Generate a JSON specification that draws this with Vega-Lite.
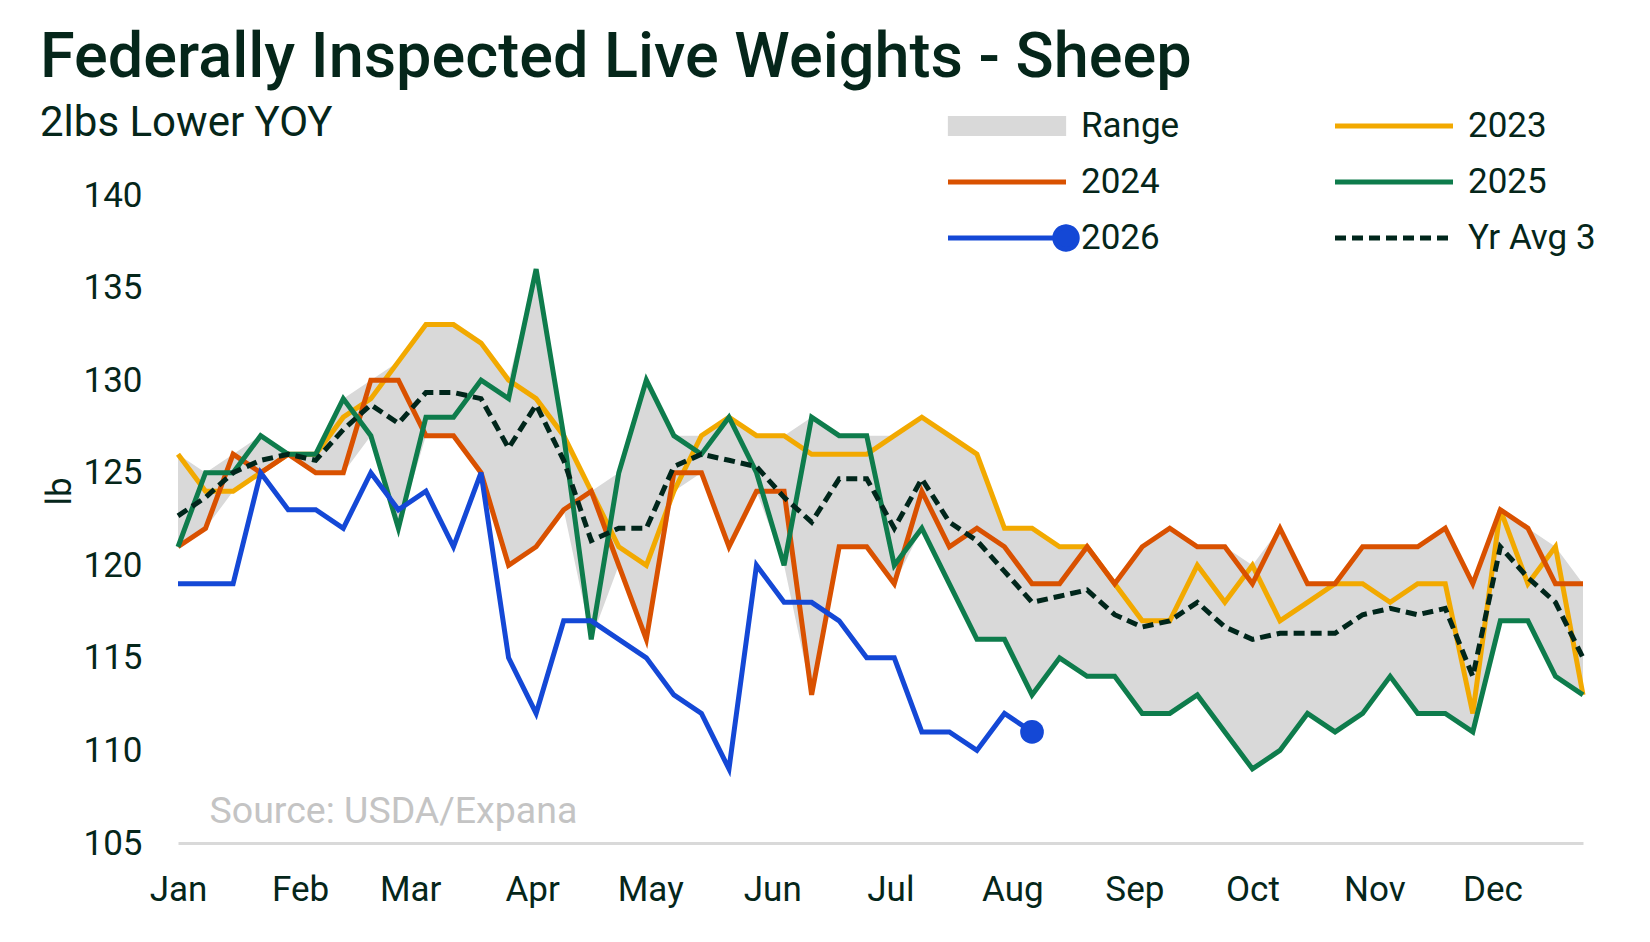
{
  "$schema": "https://vega.github.io/schema/vega-lite/v6.json",
  "width": 1405,
  "height": 648,
  "autosize": {"type": "none"},
  "padding": {"left": 178, "top": 195, "right": 67, "bottom": 99},
  "background": "white",
  "title": {
    "text": "Federally Inspected Live Weights - Sheep",
    "subtitle": "2lbs Lower YOY",
    "anchor": "start",
    "frame": "group",
    "dx": -138,
    "offset": -36,
    "font": "Roboto",
    "fontSize": 63,
    "fontWeight": 500,
    "color": "#05261a",
    "subtitleFont": "Roboto",
    "subtitleFontSize": 42,
    "subtitleColor": "#05261a",
    "subtitlePadding": 13
  },
  "datasets": {
    "weeks": [
      {"date": "2023-01-01", "2023": 126, "2024": 121, "2025": 121, "2026": 119, "lo": 121, "hi": 126, "avg": 122.67},
      {"date": "2023-01-08", "2023": 124, "2024": 122, "2025": 125, "2026": 119, "lo": 122, "hi": 125, "avg": 123.67},
      {"date": "2023-01-15", "2023": 124, "2024": 126, "2025": 125, "2026": 119, "lo": 124, "hi": 126, "avg": 125},
      {"date": "2023-01-22", "2023": 125, "2024": 125, "2025": 127, "2026": 125, "lo": 125, "hi": 127, "avg": 125.67},
      {"date": "2023-01-29", "2023": 126, "2024": 126, "2025": 126, "2026": 123, "lo": 126, "hi": 126, "avg": 126},
      {"date": "2023-02-05", "2023": 126, "2024": 125, "2025": 126, "2026": 123, "lo": 125, "hi": 126, "avg": 125.67},
      {"date": "2023-02-12", "2023": 128, "2024": 125, "2025": 129, "2026": 122, "lo": 125, "hi": 129, "avg": 127.33},
      {"date": "2023-02-19", "2023": 129, "2024": 130, "2025": 127, "2026": 125, "lo": 127, "hi": 130, "avg": 128.67},
      {"date": "2023-02-26", "2023": 131, "2024": 130, "2025": 122, "2026": 123, "lo": 122, "hi": 131, "avg": 127.67},
      {"date": "2023-03-05", "2023": 133, "2024": 127, "2025": 128, "2026": 124, "lo": 127, "hi": 133, "avg": 129.33},
      {"date": "2023-03-12", "2023": 133, "2024": 127, "2025": 128, "2026": 121, "lo": 127, "hi": 133, "avg": 129.33},
      {"date": "2023-03-19", "2023": 132, "2024": 125, "2025": 130, "2026": 125, "lo": 125, "hi": 132, "avg": 129},
      {"date": "2023-03-26", "2023": 130, "2024": 120, "2025": 129, "2026": 115, "lo": 120, "hi": 130, "avg": 126.33},
      {"date": "2023-04-02", "2023": 129, "2024": 121, "2025": 136, "2026": 112, "lo": 121, "hi": 136, "avg": 128.67},
      {"date": "2023-04-09", "2023": 127, "2024": 123, "2025": 127, "2026": 117, "lo": 123, "hi": 127, "avg": 125.67},
      {"date": "2023-04-16", "2023": 124, "2024": 124, "2025": 116, "2026": 117, "lo": 116, "hi": 124, "avg": 121.33},
      {"date": "2023-04-23", "2023": 121, "2024": 120, "2025": 125, "2026": 116, "lo": 120, "hi": 125, "avg": 122},
      {"date": "2023-04-30", "2023": 120, "2024": 116, "2025": 130, "2026": 115, "lo": 116, "hi": 130, "avg": 122},
      {"date": "2023-05-07", "2023": 124, "2024": 125, "2025": 127, "2026": 113, "lo": 124, "hi": 127, "avg": 125.33},
      {"date": "2023-05-14", "2023": 127, "2024": 125, "2025": 126, "2026": 112, "lo": 125, "hi": 127, "avg": 126},
      {"date": "2023-05-21", "2023": 128, "2024": 121, "2025": 128, "2026": 109, "lo": 121, "hi": 128, "avg": 125.67},
      {"date": "2023-05-28", "2023": 127, "2024": 124, "2025": 125, "2026": 120, "lo": 124, "hi": 127, "avg": 125.33},
      {"date": "2023-06-04", "2023": 127, "2024": 124, "2025": 120, "2026": 118, "lo": 120, "hi": 127, "avg": 123.67},
      {"date": "2023-06-11", "2023": 126, "2024": 113, "2025": 128, "2026": 118, "lo": 113, "hi": 128, "avg": 122.33},
      {"date": "2023-06-18", "2023": 126, "2024": 121, "2025": 127, "2026": 117, "lo": 121, "hi": 127, "avg": 124.67},
      {"date": "2023-06-25", "2023": 126, "2024": 121, "2025": 127, "2026": 115, "lo": 121, "hi": 127, "avg": 124.67},
      {"date": "2023-07-02", "2023": 127, "2024": 119, "2025": 120, "2026": 115, "lo": 119, "hi": 127, "avg": 122},
      {"date": "2023-07-09", "2023": 128, "2024": 124, "2025": 122, "2026": 111, "lo": 122, "hi": 128, "avg": 124.67},
      {"date": "2023-07-16", "2023": 127, "2024": 121, "2025": 119, "2026": 111, "lo": 119, "hi": 127, "avg": 122.33},
      {"date": "2023-07-23", "2023": 126, "2024": 122, "2025": 116, "2026": 110, "lo": 116, "hi": 126, "avg": 121.33},
      {"date": "2023-07-30", "2023": 122, "2024": 121, "2025": 116, "2026": 112, "lo": 116, "hi": 122, "avg": 119.67},
      {"date": "2023-08-06", "2023": 122, "2024": 119, "2025": 113, "2026": 111, "lo": 113, "hi": 122, "avg": 118},
      {"date": "2023-08-13", "2023": 121, "2024": 119, "2025": 115, "lo": 115, "hi": 121, "avg": 118.33},
      {"date": "2023-08-20", "2023": 121, "2024": 121, "2025": 114, "lo": 114, "hi": 121, "avg": 118.67},
      {"date": "2023-08-27", "2023": 119, "2024": 119, "2025": 114, "lo": 114, "hi": 119, "avg": 117.33},
      {"date": "2023-09-03", "2023": 117, "2024": 121, "2025": 112, "lo": 112, "hi": 121, "avg": 116.67},
      {"date": "2023-09-10", "2023": 117, "2024": 122, "2025": 112, "lo": 112, "hi": 122, "avg": 117},
      {"date": "2023-09-17", "2023": 120, "2024": 121, "2025": 113, "lo": 113, "hi": 121, "avg": 118},
      {"date": "2023-09-24", "2023": 118, "2024": 121, "2025": 111, "lo": 111, "hi": 121, "avg": 116.67},
      {"date": "2023-10-01", "2023": 120, "2024": 119, "2025": 109, "lo": 109, "hi": 120, "avg": 116},
      {"date": "2023-10-08", "2023": 117, "2024": 122, "2025": 110, "lo": 110, "hi": 122, "avg": 116.33},
      {"date": "2023-10-15", "2023": 118, "2024": 119, "2025": 112, "lo": 112, "hi": 119, "avg": 116.33},
      {"date": "2023-10-22", "2023": 119, "2024": 119, "2025": 111, "lo": 111, "hi": 119, "avg": 116.33},
      {"date": "2023-10-29", "2023": 119, "2024": 121, "2025": 112, "lo": 112, "hi": 121, "avg": 117.33},
      {"date": "2023-11-05", "2023": 118, "2024": 121, "2025": 114, "lo": 114, "hi": 121, "avg": 117.67},
      {"date": "2023-11-12", "2023": 119, "2024": 121, "2025": 112, "lo": 112, "hi": 121, "avg": 117.33},
      {"date": "2023-11-19", "2023": 119, "2024": 122, "2025": 112, "lo": 112, "hi": 122, "avg": 117.67},
      {"date": "2023-11-26", "2023": 112, "2024": 119, "2025": 111, "lo": 111, "hi": 119, "avg": 114},
      {"date": "2023-12-03", "2023": 123, "2024": 123, "2025": 117, "lo": 117, "hi": 123, "avg": 121},
      {"date": "2023-12-10", "2023": 119, "2024": 122, "2025": 117, "lo": 117, "hi": 122, "avg": 119.33},
      {"date": "2023-12-17", "2023": 121, "2024": 119, "2025": 114, "lo": 114, "hi": 121, "avg": 118},
      {"date": "2023-12-24", "2023": 113, "2024": 119, "2025": 113, "lo": 113, "hi": 119, "avg": 115}
    ]
  },
  "data": {"name": "weeks"},
  "layer": [
    {
      "mark": {"type": "area", "color": "#d9d9d9", "opacity": 1},
      "encoding": {
        "x": {
          "field": "date",
          "type": "temporal",
          "title": null,
          "scale": {"type": "utc", "nice": false},
          "axis": {
            "title": null,
            "format": "%b",
            "tickCount": "month",
            "labelOverlap": false,
            "labelFlush": false,
            "labelPadding": 29,
            "ticks": false,
            "tickSize": 0,
            "grid": false,
            "domainColor": "#d9d9d9",
            "domainWidth": 3
          }
        },
        "y": {
          "field": "lo",
          "type": "quantitative",
          "title": "lb",
          "scale": {"domain": [105, 140], "nice": false, "zero": false},
          "axis": {
            "title": "lb",
            "values": [105, 110, 115, 120, 125, 130, 135, 140],
            "labelFlush": false,
            "labelPadding": 36,
            "ticks": false,
            "tickSize": 0,
            "domain": false,
            "grid": false,
            "titleX": -119,
            "titleY": 296,
            "titleAngle": -90,
            "titleAlign": "center",
            "titleBaseline": "middle"
          }
        },
        "y2": {"field": "hi"}
      }
    },
    {
      "transform": [{"fold": ["2023", "2024", "2025", "2026"], "as": ["series", "lb"]}],
      "mark": {"type": "line", "strokeWidth": 5},
      "encoding": {
        "x": {"field": "date", "type": "temporal", "title": null, "scale": {"type": "utc"}},
        "y": {"field": "lb", "type": "quantitative", "title": "lb"},
        "color": {
          "field": "series",
          "type": "nominal",
          "scale": {
            "domain": ["Range", "2023", "2024", "2025", "2026", "Yr Avg 3"],
            "range": ["#d9d9d9", "#f2a900", "#d95100", "#0e7c4c", "#1448d6", "#00261b"]
          },
          "legend": {
            "title": null,
            "orient": "none",
            "direction": "horizontal",
            "legendX": 767.5,
            "legendY": -87,
            "columns": 2,
            "padding": 0,
            "clipHeight": 36,
            "rowPadding": 20,
            "columnPadding": 153,
            "symbolType": "stroke",
            "symbolSize": 13924,
            "symbolStrokeWidth": 5,
            "labelFontSize": 35,
            "labelOffset": 12.5,
            "labelLimit": 400,
            "encode": {
              "symbols": {
                "update": {
                  "shape": {"signal": "datum.value === 'Range' ? 'M-0.96,-0.127H0.96V0.127H-0.96Z' : datum.value === '2026' ? 'M-1,0H1M1.19,0A0.19,0.19,0,1,1,0.81,0A0.19,0.19,0,1,1,1.19,0Z' : 'stroke'"},
                  "fill": {"signal": "datum.value === 'Range' ? '#d9d9d9' : datum.value === '2026' ? '#1448d6' : 'transparent'"},
                  "strokeDash": {"signal": "datum.value === 'Yr Avg 3' ? [11, 6] : [1, 0]"},
                  "opacity": {"value": 1}
                }
              }
            }
          }
        }
      }
    },
    {
      "mark": {"type": "line", "strokeWidth": 5, "color": "#00261b", "strokeDash": [11, 6]},
      "encoding": {
        "x": {"field": "date", "type": "temporal", "title": null, "scale": {"type": "utc"}},
        "y": {"field": "avg", "type": "quantitative", "title": "lb"}
      }
    },
    {
      "data": {"values": [{"date": "2023-08-06", "lb": 111}]},
      "mark": {"type": "point", "filled": true, "size": 560, "color": "#1448d6", "opacity": 1},
      "encoding": {
        "x": {"field": "date", "type": "temporal", "title": null, "scale": {"type": "utc"}},
        "y": {"field": "lb", "type": "quantitative", "title": "lb"}
      }
    },
    {
      "data": {"values": [{"label": "Source: USDA/Expana"}]},
      "mark": {"type": "text", "align": "left", "baseline": "middle", "fontSize": 37.5, "color": "#c4c4c4"},
      "encoding": {
        "x": {"datum": {"year": 2023, "month": 1, "date": 9, "utc": true}, "type": "temporal", "title": null, "scale": {"type": "utc"}},
        "y": {"datum": 106.7, "type": "quantitative", "title": "lb"},
        "text": {"field": "label"}
      }
    }
  ],
  "config": {
    "font": "Roboto",
    "view": {"stroke": null},
    "axis": {
      "labelFont": "Roboto",
      "labelFontSize": 35,
      "labelColor": "#05261a",
      "titleFont": "Roboto",
      "titleFontSize": 35,
      "titleFontWeight": "normal",
      "titleColor": "#05261a"
    },
    "legend": {
      "labelFont": "Roboto",
      "labelColor": "#05261a"
    }
  }
}
